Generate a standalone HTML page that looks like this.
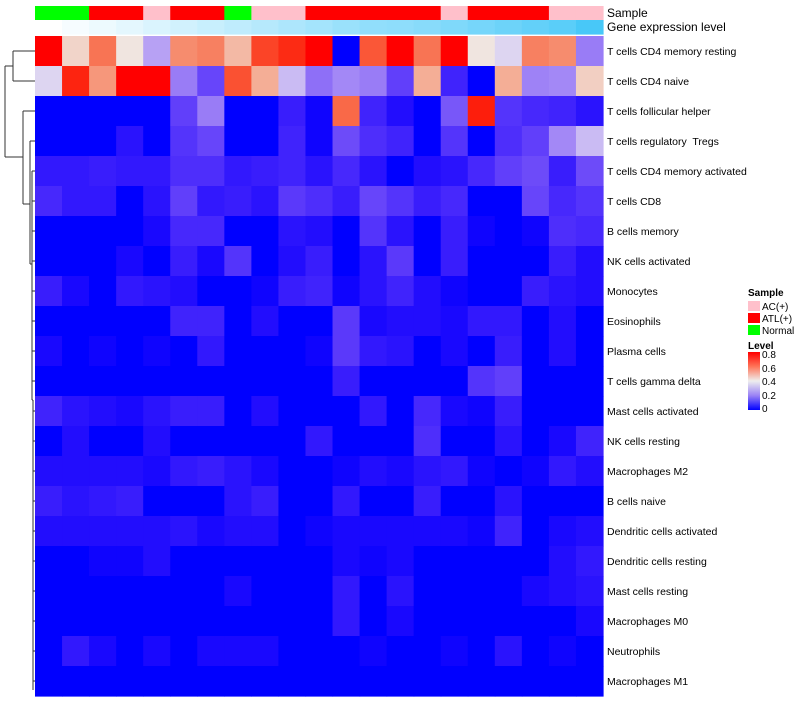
<!DOCTYPE html>
<html><head><meta charset="utf-8"><style>
body{margin:0;background:#fff;font-family:"Liberation Sans",sans-serif;}
svg text{font-family:"Liberation Sans",sans-serif;white-space:pre;}
</style></head><body>
<svg id="chart" width="800" height="700" xmlns="http://www.w3.org/2000/svg">
<defs><linearGradient id="lg" x1="0" y1="1" x2="0" y2="0">
<stop offset="0" stop-color="#0000ff"/><stop offset="0.25" stop-color="#9a82f5"/><stop offset="0.5" stop-color="#eeeeee"/><stop offset="0.75" stop-color="#ff7458"/><stop offset="1" stop-color="#ff0000"/></linearGradient></defs>
<g id="dendro" stroke="#333" stroke-width="1" fill="none">
<path d="M13 51H35M13 81H35M13 51V81M5 66H13M5 66V157M5 157H23M23 111H35M23 111V204M23 204H30M30 141H35M30 141V264M30 264H32M32 171H35M32 171V400M32 201H35M32 231H35M32 261H35M32 291H35M32 321H35M32 351H35M32 381H35M32 400H33M33 411H35M33 400V690M33 441H35M33 471H35M33 501H35M33 531H35M33 561H35M33 591H35M33 621H35M33 651H35M33 681H35"/>
</g>
<g id="cells"></g>
<g id="labels"></g>
<text x="607" y="17" font-size="12">Sample</text>
<text x="607" y="31" font-size="12">Gene expression level</text>
<g font-size="10">
<text x="748" y="296" font-weight="bold" font-size="10">Sample</text>
<rect x="748" y="301" width="12" height="10" fill="#ffc0cb"/>
<text x="762" y="310">AC(+)</text>
<rect x="748" y="313" width="12" height="10" fill="#ff0000"/>
<text x="762" y="322">ATL(+)</text>
<rect x="748" y="325" width="12" height="10" fill="#00ff00"/>
<text x="762" y="334">Normal</text>
<text x="748" y="349" font-weight="bold">Level</text>
<rect x="748" y="352" width="12" height="58" fill="url(#lg)"/>
<text x="762" y="358">0.8</text><text x="762" y="372">0.6</text><text x="762" y="385">0.4</text><text x="762" y="399">0.2</text><text x="762" y="412">0</text>
</g>
</svg>
<script>
const rowLabels=["T cells CD4 memory resting","T cells CD4 naive","T cells follicular helper","T cells regulatory  Tregs","T cells CD4 memory activated","T cells CD8","B cells memory","NK cells activated","Monocytes","Eosinophils","Plasma cells","T cells gamma delta","Mast cells activated","NK cells resting","Macrophages M2","B cells naive","Dendritic cells activated","Dendritic cells resting","Mast cells resting","Macrophages M0","Neutrophils","Macrophages M1"];
const sampleGroups=["Normal","Normal","ATL","ATL","AC","ATL","ATL","Normal","AC","AC","ATL","ATL","ATL","ATL","ATL","AC","ATL","ATL","ATL","AC","AC"];
const geneLevel=[0,0.05,0.1,0.15,0.2,0.25,0.3,0.35,0.4,0.45,0.5,0.55,0.6,0.62,0.65,0.7,0.75,0.8,0.85,0.9,1];
const r0=[.8,.45,.62,.42,.28,.58,.6,.5,.7,.74,.8,0,.67,.8,.62,.8,.42,.36,.6,.58,.22];
const r1=[.36,.75,.56,.8,.8,.22,.13,.68,.52,.32,.2,.24,.22,.12,.52,.07,0,.52,.23,.24,.46];
const r2=[0,0,0,0,0,.12,.22,0,0,.06,.01,.64,.07,.03,0,.16,.76,.1,.08,.07,.04];
const r3=[0,0,0,.04,0,.1,.13,0,0,.07,.01,.14,.09,.07,0,.1,0,.09,.12,.24,.32];
const r4=[.05,.05,.06,.05,.05,.09,.09,.05,.06,.07,.04,.08,.04,0,.03,.04,.08,.12,.14,.06,.14];
const r5=[.08,.05,.05,0,.04,.12,.05,.06,.04,.11,.09,.06,.13,.1,.06,.08,0,0,.13,.08,.1];
const r6=[0,0,0,0,.02,.08,.08,0,0,.04,.03,0,.1,.04,0,.06,.01,0,.01,.09,.08];
const r7=[0,0,0,.02,0,.06,.02,.1,0,.03,.06,0,.04,.11,0,.06,0,0,0,.06,.03];
const r8=[.06,.02,0,.05,.04,.03,0,0,.01,.06,.07,.01,.04,.07,.03,.01,0,0,.06,.04,.03];
const r9=[0,0,0,0,0,.07,.07,0,.03,0,0,.11,.02,.03,.03,.02,.05,.05,0,.03,0];
const r10=[.02,0,.01,0,.01,0,.05,0,0,0,.01,.11,.05,.04,0,.02,0,.06,0,.03,0];
const r11=[0,0,0,0,0,0,0,0,0,0,0,.06,0,0,0,0,.1,.12,0,0,0];
const r12=[.07,.04,.03,.02,.04,.06,.06,0,.03,0,0,0,.05,0,.08,.02,.01,.06,0,0,0];
const r13=[0,.03,0,0,.03,0,0,0,0,0,.05,0,0,0,.09,0,0,.04,0,.02,.07];
const r14=[.03,.03,.03,.03,.02,.05,.06,.04,.02,0,0,.01,.03,.02,.04,.05,.01,0,.01,.05,.03];
const r15=[.06,.04,.05,.06,0,0,0,.04,.06,0,0,.05,0,0,.06,0,0,.04,0,0,0];
const r16=[.03,.03,.03,.03,.03,.04,.02,.03,.03,0,.01,.02,.02,.02,.02,.02,.01,.07,0,.02,.03];
const r17=[0,0,.01,.01,.03,0,0,0,0,0,0,.02,.01,.02,0,0,0,0,0,.03,.05];
const r18=[0,0,0,0,0,0,0,.02,0,0,0,.05,0,.04,0,0,0,0,.02,.03,.04];
const r19=[0,0,0,0,0,0,0,0,0,0,0,.05,0,.02,0,0,0,0,0,0,.02];
const r20=[0,.05,.02,0,.02,0,.02,.02,.02,0,0,0,.01,0,0,.01,0,.04,0,.01,0];
const r21=[0,0,0,0,0,0,0,0,0,0,0,0,0,0,0,0,0,0,0,0,0];
const matrix=[r0,r1,r2,r3,r4,r5,r6,r7,r8,r9,r10,r11,r12,r13,r14,r15,r16,r17,r18,r19,r20,r21];

const X0=35,X1=603,Y0=36,Y1=696;
const nC=21,nR=rowLabels.length;
const cw=(X1-X0)/nC,rh=(Y1-Y0)/nR;
const xs=i=>X0+i*cw, ys=j=>Y0+j*rh;
function col(v){
  v=Math.max(0,Math.min(0.8,v));
  if(v<=0.4){const t=v/0.4;const r=255*Math.pow(t,0.75)*0.94,g=255*Math.pow(t,1.1)*0.94,b=255-15*t;return `rgb(${r|0},${g|0},${b|0})`;}
  const t=(v-0.4)/0.4;const g=240*Math.pow(1-t,0.9),b=240*Math.pow(1-t,1.3);return `rgb(${255-15*(1-t)|0},${g|0},${b|0})`;
}
const sampleColor={AC:"#ffc0cb",ATL:"#ff0000",Normal:"#00ff00"};
const NS="http://www.w3.org/2000/svg";
const cells=document.getElementById('cells'),labels=document.getElementById('labels');
function rect(x,y,w,h,f){const r=document.createElementNS(NS,'rect');r.setAttribute('x',x);r.setAttribute('y',y);r.setAttribute('width',w+0.6);r.setAttribute('height',h+0.6);r.setAttribute('fill',f);return r;}
sampleGroups.forEach((g,i)=>{
  const r=rect(xs(i),6,cw,14,sampleColor[g]);
  
  
  cells.appendChild(r);
});
geneLevel.forEach((v,i)=>{
  const R=Math.round(255-(255-72)*v),G=Math.round(255-(255-200)*v),B=Math.round(255-(255-248)*v);
  const r=rect(xs(i),20,cw,14,`rgb(${R},${G},${B})`);
  
  
  cells.appendChild(r);
});
matrix.forEach((row,j)=>{
  row.forEach((v,i)=>{
    const r=rect(xs(i),ys(j),cw,rh,col(v));
    
    
    cells.appendChild(r);
  });
  const t=document.createElementNS(NS,'text');
  t.setAttribute('x',607);t.setAttribute('y',ys(j)+rh/2+4);t.setAttribute('font-size','10.5');
  t.textContent=rowLabels[j];
  
  
  labels.appendChild(t);
});
</script>
</body></html>
